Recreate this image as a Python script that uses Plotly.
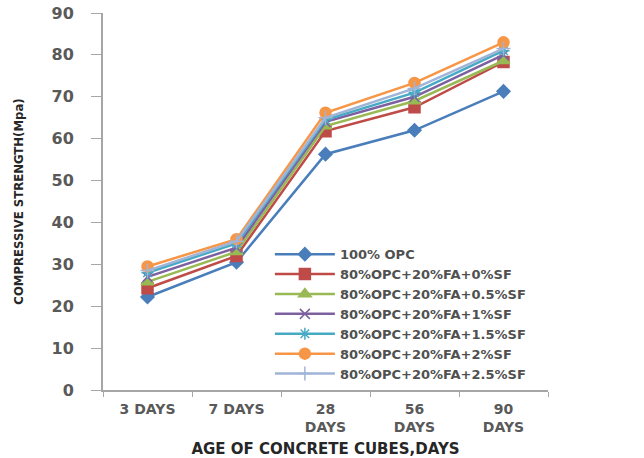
import plotly.graph_objects as go

categories = ["3 DAYS", "7 DAYS", "28<br>DAYS", "56<br>DAYS", "90<br>DAYS"]

series_names = [
    "100% OPC",
    "80%OPC+20%FA+0%SF",
    "80%OPC+20%FA+0.5%SF",
    "80%OPC+20%FA+1%SF",
    "80%OPC+20%FA+1.5%SF",
    "80%OPC+20%FA+2%SF",
    "80%OPC+20%FA+2.5%SF",
]

opc100 = [22.2, 30.5, 56.3, 62.0, 71.3]
sf0 = [24.3, 32.0, 61.8, 67.5, 78.3]
sf05 = [25.8, 33.0, 63.0, 69.0, 78.6]
sf1 = [27.0, 34.0, 64.0, 70.0, 80.0]
sf15 = [28.0, 35.0, 64.5, 71.0, 81.0]
sf2 = [29.5, 36.0, 66.2, 73.3, 83.0]
sf25 = [28.5, 35.5, 65.0, 72.0, 81.5]

values = [opc100, sf0, sf05, sf1, sf15, sf2, sf25]
colors = ["#4A7EBB", "#BE4B48", "#98B954", "#7D60A0", "#46AAC5", "#F79646", "#9FB4D6"]
symbols = ["diamond", "square", "triangle-up", "x-thin-open", "asterisk-open", "circle", "cross-thin-open"]
sizes = [10, 11, 11, 10, 10, 11, 10]

fig = go.Figure()
for name, vals, col, sym, sz in zip(series_names, values, colors, symbols, sizes):
    fig.add_trace(go.Scatter(
        x=categories, y=vals, name=name, mode="lines+markers",
        line=dict(color=col, width=2.5),
        marker=dict(symbol=sym, size=sz, color=col, line=dict(color=col, width=1.5)),
    ))

fig.update_layout(
    width=644, height=458,
    margin=dict(l=103, r=96, t=13, b=68),
    paper_bgcolor="white", plot_bgcolor="white",
    showlegend=True,
    legend=dict(
        x=0.375, y=0.4, xanchor="left", yanchor="top",
        font=dict(family="DejaVu Sans", size=13, color="#505050", weight="bold"),
        bgcolor="rgba(0,0,0,0)", itemwidth=60, tracegroupgap=0,
    ),
    font=dict(family="DejaVu Sans", color="#595959"),
)

fig.update_xaxes(
    type="category", range=[-0.5, 4.5], automargin=False,
    showline=True, linecolor="#A6A6A6", linewidth=2,
    ticks="outside", tickson="boundaries", ticklen=5, tickcolor="#A6A6A6",
    tickfont=dict(family="DejaVu Sans", size=14, color="#595959", weight="bold"),
    ticklabelstandoff=5,
    showgrid=False, zeroline=False,
    title=dict(text="AGE OF CONCRETE CUBES,DAYS",
               font=dict(family="DejaVu Sans", size=15, color="#262626", weight="bold"),
               standoff=10),
)

fig.update_yaxes(
    range=[0, 90], dtick=10, automargin=False,
    showline=True, linecolor="#A6A6A6", linewidth=2,
    ticks="outside", ticklen=10, tickcolor="#A6A6A6",
    tickfont=dict(family="DejaVu Sans", size=16, color="#595959", weight="bold"),
    ticklabelstandoff=14,
    showgrid=False, zeroline=False,
    title=dict(text="COMPRESSIVE STRENGTH(Mpa)",
               font=dict(family="Liberation Sans Narrow, DejaVu Sans Condensed", size=13, color="#262626", weight="bold"),
               standoff=25),
)

fig.write_html("out.html")
